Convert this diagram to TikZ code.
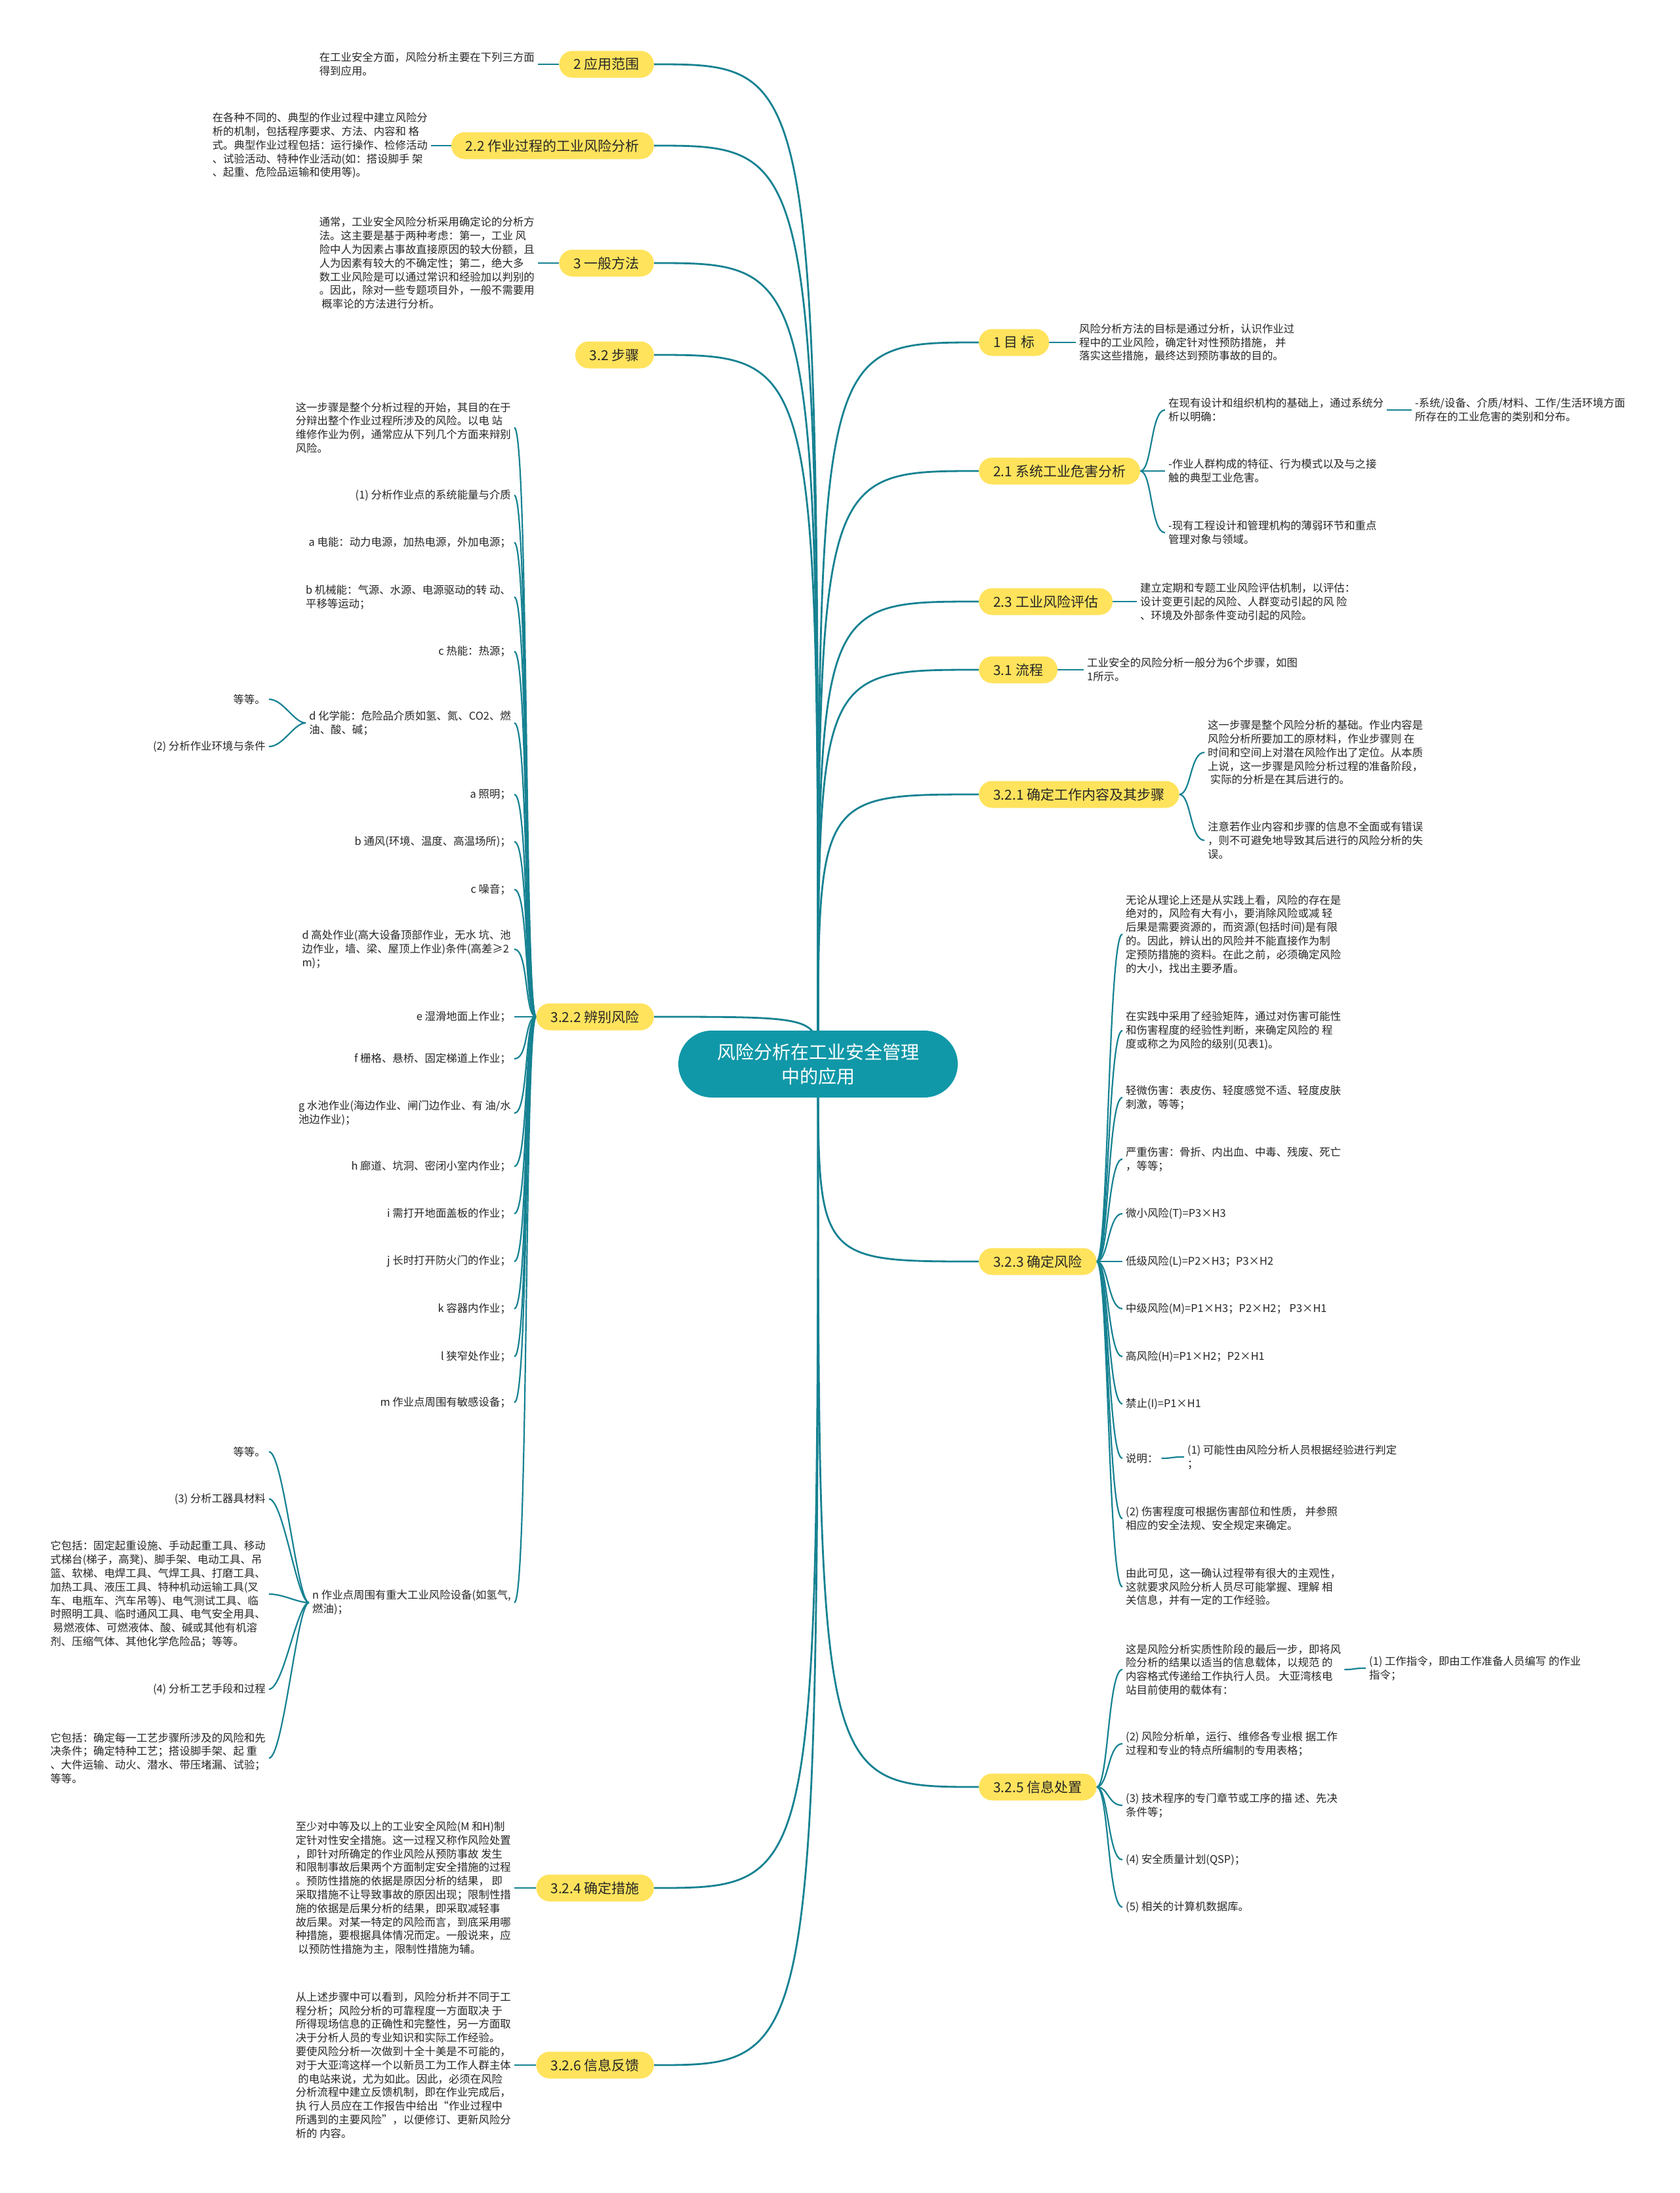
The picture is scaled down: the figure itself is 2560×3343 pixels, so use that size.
\documentclass[tikz,border=0pt]{standalone}
\usepackage{fontspec}
\setmainfont{Noto Sans CJK SC}
\usepackage{xcolor}
\usepackage{tikz}
\usetikzlibrary{backgrounds}
\definecolor{rootfill}{RGB}{16,152,168}
\definecolor{topicfill}{RGB}{255,227,92}
\definecolor{branch}{RGB}{22,130,146}
\definecolor{ink}{RGB}{38,38,38}
\newcommand{\leaffont}{\fontsize{16.4}{20.8}\selectfont}
\newcommand{\topicfont}{\fontsize{21}{25}\selectfont}
\newcommand{\rootfont}{\fontsize{28}{37}\selectfont}
\tikzset{
  root/.style={
    fill=rootfill, text=white, rounded corners=51pt,
    minimum width=426pt, minimum height=102pt, align=center, font=\rootfont
  },
  topic/.style={
    fill=topicfill, text=ink, rounded corners=20.5pt,
    minimum height=41pt, inner xsep=22pt, inner ysep=0pt, font=\topicfont
  },
  leaf/.style={text=ink, align=left, inner xsep=5pt, inner ysep=2pt, font=\leaffont},
  trunk/.style={draw=branch, line width=2.8pt,
    to path={.. controls (\tikztostart |- \tikztotarget) .. (\tikztotarget)}},
  twigl/.style={draw=branch, line width=2.2pt,
    to path={.. controls +(-18,0) and +(22,0) .. (\tikztotarget)}},
  twigr/.style={draw=branch, line width=2.2pt,
    to path={.. controls +(18,0) and +(-22,0) .. (\tikztotarget)}},
}

\begin{document}
\begin{tikzpicture}[x=1pt, y=-1pt]
  \useasboundingbox (0,0) rectangle (2560,3343);

  \node[root] (root) at (1247,1622) {风险分析在工业安全管理\\中的应用};

  % left topics
  \node[topic, anchor=east] (n2)   at (997,98)   {2 应用范围};
  \node[topic, anchor=east] (n22)  at (997,222)  {2.2 作业过程的工业风险分析};
  \node[topic, anchor=east] (n3)   at (997,401)  {3 一般方法};
  \node[topic, anchor=east] (n32)  at (997,541)  {3.2 步骤};
  \node[topic, anchor=east] (n322) at (997,1550) {3.2.2 辨别风险};
  \node[topic, anchor=east] (n324) at (997,2878) {3.2.4 确定措施};
  \node[topic, anchor=east] (n326) at (997,3148) {3.2.6 信息反馈};

  % right topics
  \node[topic, anchor=west] (n1)   at (1492,522)  {1 目 标};
  \node[topic, anchor=west] (n21)  at (1492,718)  {2.1 系统工业危害分析};
  \node[topic, anchor=west] (n23)  at (1492,917)  {2.3 工业风险评估};
  \node[topic, anchor=west] (n31)  at (1492,1021) {3.1 流程};
  \node[topic, anchor=west] (n321) at (1492,1211) {3.2.1 确定工作内容及其步骤};
  \node[topic, anchor=west] (n323) at (1492,1923) {3.2.3 确定风险};
  \node[topic, anchor=west] (n325) at (1492,2724) {3.2.5 信息处置};

  % left leaves
  \node[leaf, anchor=east] (t2) at (820,98) {在工业安全方面，风险分析主要在下列三方面\\得到应用。};
  \node[leaf, anchor=east] (t22) at (657,222) {在各种不同的、典型的作业过程中建立风险分\\析的机制，包括程序要求、方法、内容和 格\\式。典型作业过程包括：运行操作、检修活动\\、试验活动、特种作业活动(如：搭设脚手 架\\、起重、危险品运输和使用等)。};
  \node[leaf, anchor=east] (t3) at (820,401) {通常，工业安全风险分析采用确定论的分析方\\法。这主要是基于两种考虑：第一，工业 风\\险中人为因素占事故直接原因的较大份额，且\\人为因素有较大的不确定性；第二，绝大多\\数工业风险是可以通过常识和经验加以判别的\\。因此，除对一些专题项目外，一般不需要用\\~概率论的方法进行分析。};

  \node[leaf, anchor=east] (c1)  at (784,652)  {这一步骤是整个分析过程的开始，其目的在于\\分辩出整个作业过程所涉及的风险。以电 站\\维修作业为例，通常应从下列几个方面来辩别\\风险。};
  \node[leaf, anchor=east] (c2)  at (784,755)  {(1) 分析作业点的系统能量与介质};
  \node[leaf, anchor=east] (c3)  at (784,827)  {a 电能：动力电源，加热电源，外加电源；};
  \node[leaf, anchor=east] (c4)  at (784,910)  {b 机械能：气源、水源、电源驱动的转 动、\\平移等运动；};
  \node[leaf, anchor=east] (c5)  at (784,993)  {c 热能：热源；};
  \node[leaf, anchor=east] (c6)  at (784,1102) {d 化学能：危险品介质如氢、氮、CO2、燃\\油、酸、碱；};
  \node[leaf, anchor=east] (d1)  at (410,1066) {等等。};
  \node[leaf, anchor=east] (d2)  at (410,1138) {(2) 分析作业环境与条件};
  \node[leaf, anchor=east] (c7)  at (784,1211) {a 照明；};
  \node[leaf, anchor=east] (c8)  at (784,1283) {b 通风(环境、温度、高温场所)；};
  \node[leaf, anchor=east] (c9)  at (784,1356) {c 噪音；};
  \node[leaf, anchor=east] (c10) at (784,1447) {d 高处作业(高大设备顶部作业，无水 坑、池\\边作业，墙、梁、屋顶上作业)条件(高差≥2\\m)；};
  \node[leaf, anchor=east] (c11) at (784,1550) {e 湿滑地面上作业；};
  \node[leaf, anchor=east] (c12) at (784,1614) {f 栅格、悬桥、固定梯道上作业；};
  \node[leaf, anchor=east] (c13) at (784,1697) {g 水池作业(海边作业、闸门边作业、有 油/水\\池边作业)；};
  \node[leaf, anchor=east] (c14) at (784,1778) {h 廊道、坑洞、密闭小室内作业；};
  \node[leaf, anchor=east] (c15) at (784,1850) {i 需打开地面盖板的作业；};
  \node[leaf, anchor=east] (c16) at (784,1923) {j 长时打开防火门的作业；};
  \node[leaf, anchor=east] (c17) at (784,1995) {k 容器内作业；};
  \node[leaf, anchor=east] (c18) at (784,2068) {l 狭窄处作业；};
  \node[leaf, anchor=east] (c19) at (784,2138) {m 作业点周围有敏感设备；};
  \node[leaf, anchor=east] (c20) at (784,2443) {n 作业点周围有重大工业风险设备(如氢气,\\燃油)；};
  \node[leaf, anchor=east] (e1)  at (410,2213) {等等。};
  \node[leaf, anchor=east] (e2)  at (410,2285) {(3) 分析工器具材料};
  \node[leaf, anchor=east] (e3)  at (410,2430) {它包括：固定起重设施、手动起重工具、移动\\式梯台(梯子，高凳)、脚手架、电动工具、吊\\篮、软梯、电焊工具、气焊工具、打磨工具、\\加热工具、液压工具、特种机动运输工具(叉\\车、电瓶车、汽车吊等)、电气测试工具、临\\时照明工具、临时通风工具、电气安全用具、\\~易燃液体、可燃液体、酸、碱或其他有机溶\\剂、压缩气体、其他化学危险品；等等。};
  \node[leaf, anchor=east] (e4)  at (410,2575) {(4) 分析工艺手段和过程};
  \node[leaf, anchor=east] (e5)  at (410,2680) {它包括：确定每一工艺步骤所涉及的风险和先\\决条件；确定特种工艺；搭设脚手架、起 重\\、大件运输、动火、潜水、带压堵漏、试验；\\等等。};

  \node[leaf, anchor=east] (t324) at (784,2878) {至少对中等及以上的工业安全风险(M 和H)制\\定针对性安全措施。这一过程又称作风险处置\\，即针对所确定的作业风险从预防事故 发生\\和限制事故后果两个方面制定安全措施的过程\\。预防性措施的依据是原因分析的结果， 即\\采取措施不让导致事故的原因出现；限制性措\\施的依据是后果分析的结果，即采取减轻事\\故后果。对某一特定的风险而言，到底采用哪\\种措施，要根据具体情况而定。一般说来，应\\~以预防性措施为主，限制性措施为辅。};
  \node[leaf, anchor=east] (t326) at (784,3148) {从上述步骤中可以看到，风险分析并不同于工\\程分析；风险分析的可靠程度一方面取决 于\\所得现场信息的正确性和完整性，另一方面取\\决于分析人员的专业知识和实际工作经验。\\要使风险分析一次做到十全十美是不可能的，\\对于大亚湾这样一个以新员工为工作人群主体\\~的电站来说，尤为如此。因此，必须在风险\\分析流程中建立反馈机制，即在作业完成后，\\执 行人员应在工作报告中给出“作业过程中\\所遇到的主要风险”，以便修订、更新风险分\\析的 内容。};

  % right leaves
  \node[leaf, anchor=west] (t1) at (1640,522) {风险分析方法的目标是通过分析，认识作业过\\程中的工业风险，确定针对性预防措施， 并\\落实这些措施，最终达到预防事故的目的。};
  \node[leaf, anchor=west] (t21a) at (1776,625) {在现有设计和组织机构的基础上，通过系统分\\析以明确：};
  \node[leaf, anchor=west] (t21x) at (2152,625) {-系统/设备、介质/材料、工作/生活环境方面\\所存在的工业危害的类别和分布。};
  \node[leaf, anchor=west] (t21b) at (1776,718) {-作业人群构成的特征、行为模式以及与之接\\触的典型工业危害。};
  \node[leaf, anchor=west] (t21c) at (1776,812) {-现有工程设计和管理机构的薄弱环节和重点\\管理对象与领域。};
  \node[leaf, anchor=west] (t23) at (1733,917) {建立定期和专题工业风险评估机制，以评估：\\设计变更引起的风险、人群变动引起的风 险\\、环境及外部条件变动引起的风险。};
  \node[leaf, anchor=west] (t31) at (1652,1021) {工业安全的风险分析一般分为6个步骤，如图\\1所示。};
  \node[leaf, anchor=west] (t321a) at (1836,1147) {这一步骤是整个风险分析的基础。作业内容是\\风险分析所要加工的原材料，作业步骤则 在\\时间和空间上对潜在风险作出了定位。从本质\\上说，这一步骤是风险分析过程的准备阶段，\\~实际的分析是在其后进行的。};
  \node[leaf, anchor=west] (t321b) at (1836,1281) {注意若作业内容和步骤的信息不全面或有错误\\，则不可避免地导致其后进行的风险分析的失\\误。};

  \node[leaf, anchor=west] (r1)  at (1711,1424) {无论从理论上还是从实践上看，风险的存在是\\绝对的，风险有大有小，要消除风险或减 轻\\后果是需要资源的，而资源(包括时间)是有限\\的。因此，辨认出的风险并不能直接作为制\\定预防措施的资料。在此之前，必须确定风险\\的大小，找出主要矛盾。};
  \node[leaf, anchor=west] (r2)  at (1711,1571) {在实践中采用了经验矩阵，通过对伤害可能性\\和伤害程度的经验性判断，来确定风险的 程\\度或称之为风险的级别(见表1)。};
  \node[leaf, anchor=west] (r3)  at (1711,1673) {轻微伤害：表皮伤、轻度感觉不适、轻度皮肤\\刺激，等等；};
  \node[leaf, anchor=west] (r4)  at (1711,1767) {严重伤害：骨折、内出血、中毒、残废、死亡\\，等等；};
  \node[leaf, anchor=west] (r5)  at (1711,1850) {微小风险(T)=P3×H3};
  \node[leaf, anchor=west] (r6)  at (1711,1923) {低级风险(L)=P2×H3；P3×H2};
  \node[leaf, anchor=west] (r7)  at (1711,1995) {中级风险(M)=P1×H3；P2×H2； P3×H1};
  \node[leaf, anchor=west] (r8)  at (1711,2068) {高风险(H)=P1×H2；P2×H1};
  \node[leaf, anchor=west] (r9)  at (1711,2140) {禁止(I)=P1×H1};
  \node[leaf, anchor=west] (r10) at (1711,2223) {说明：};
  \node[leaf, anchor=west] (r10a) at (1805,2221) {(1) 可能性由风险分析人员根据经验进行判定\\；};
  \node[leaf, anchor=west] (r11) at (1711,2315) {(2) 伤害程度可根据伤害部位和性质， 并参照\\相应的安全法规、安全规定来确定。};
  \node[leaf, anchor=west] (r12) at (1711,2419) {由此可见，这一确认过程带有很大的主观性，\\这就要求风险分析人员尽可能掌握、理解 相\\关信息，并有一定的工作经验。};

  \node[leaf, anchor=west] (s1)  at (1711,2545) {这是风险分析实质性阶段的最后一步，即将风\\险分析的结果以适当的信息载体，以规范 的\\内容格式传递给工作执行人员。 大亚湾核电\\站目前使用的载体有：};
  \node[leaf, anchor=west] (s1a) at (2082,2543) {(1) 工作指令，即由工作准备人员编写 的作业\\指令；};
  \node[leaf, anchor=west] (s2)  at (1711,2658) {(2) 风险分析单，运行、维修各专业根 据工作\\过程和专业的特点所编制的专用表格；};
  \node[leaf, anchor=west] (s3)  at (1711,2752) {(3) 技术程序的专门章节或工序的描 述、先决\\条件等；};
  \node[leaf, anchor=west] (s4)  at (1711,2835) {(4) 安全质量计划(QSP)；};
  \node[leaf, anchor=west] (s5)  at (1711,2907) {(5) 相关的计算机数据库。};

  \begin{pgfonlayer}{background}
    \fill[white] (0,0) rectangle (2560,3343);
    \path[every edge/.style={trunk}] (root.center)
      edge (n2.east) edge (n22.east) edge (n3.east) edge (n32.east)
      edge (n322.east) edge (n324.east) edge (n326.east)
      edge (n1.west) edge (n21.west) edge (n23.west) edge (n31.west)
      edge (n321.west) edge (n323.west) edge (n325.west);
    \path[every edge/.style={twigl}]
      (n2.west) edge (t2.east)
      (n22.west) edge (t22.east)
      (n3.west) edge (t3.east)
      (n324.west) edge (t324.east)
      (n326.west) edge (t326.east)
      (n322.west) edge (c1.east) edge (c2.east) edge (c3.east) edge (c4.east)
        edge (c5.east) edge (c6.east) edge (c7.east) edge (c8.east)
        edge (c9.east) edge (c10.east) edge (c11.east) edge (c12.east)
        edge (c13.east) edge (c14.east) edge (c15.east) edge (c16.east)
        edge (c17.east) edge (c18.east) edge (c19.east) edge (c20.east)
      (c6.west) edge (d1.east) edge (d2.east)
      (c20.west) edge (e1.east) edge (e2.east) edge (e3.east) edge (e4.east) edge (e5.east);
    \path[every edge/.style={twigr}]
      (n1.east) edge (t1.west)
      (n21.east) edge (t21a.west) edge (t21b.west) edge (t21c.west)
      (t21a.east) edge (t21x.west)
      (n23.east) edge (t23.west)
      (n31.east) edge (t31.west)
      (n321.east) edge (t321a.west) edge (t321b.west)
      (n323.east) edge (r1.west) edge (r2.west) edge (r3.west) edge (r4.west)
        edge (r5.west) edge (r6.west) edge (r7.west) edge (r8.west)
        edge (r9.west) edge (r10.west) edge (r11.west) edge (r12.west)
      (r10.east) edge (r10a.west)
      (n325.east) edge (s1.west) edge (s2.west) edge (s3.west) edge (s4.west) edge (s5.west)
      (s1.east) edge (s1a.west);
  \end{pgfonlayer}
\end{tikzpicture}
\end{document}
